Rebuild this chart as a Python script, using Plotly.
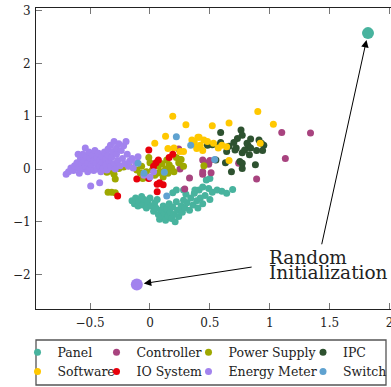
import plotly.graph_objects as go

# ---------------- data ----------------
panel_x = [-0.15,-0.13,-0.12,-0.10,-0.09,-0.07,-0.06,-0.05,-0.03,-0.02,0.00,0.01,0.03,0.04,0.05,0.06,
           0.07,0.08,0.09,0.10,0.11,0.12,0.13,0.14,0.15,0.16,0.17,0.18,0.19,0.20,0.21,0.22,0.23,0.24,
           0.26,0.27,0.28,0.29,0.30,0.31,0.33,0.34,0.36,0.37,0.39,0.40,0.41,0.42,0.44,0.44,0.46,0.47,
           0.49,0.50,0.52,0.56,0.60,0.64,0.69,0.22,0.28,0.19,0.50,0.375]
panel_y = [-0.60,-0.66,-0.55,-0.70,-0.62,-0.52,-0.68,-0.58,-0.74,-0.62,-0.55,-0.70,-0.80,-0.64,-0.74,-0.58,
           -0.86,-0.95,-0.78,-0.90,-0.70,-0.84,-0.97,-0.76,-0.90,-0.66,-0.82,-0.94,-0.72,-0.86,-1.00,-0.62,-0.78,-0.90,
           -0.70,-0.82,-0.59,-0.74,-0.48,-0.64,-0.78,-0.55,-0.68,-0.46,-0.60,-0.74,-0.40,-0.55,-0.34,-0.66,-0.50,-0.21,
           -0.37,-0.58,-0.44,-0.40,-0.42,-0.46,-0.39,-0.40,-0.40,-0.45,-0.18,-0.40]

controller_x = [1.10,1.34,1.13,0.89,0.44,0.49,0.44,0.44,0.51,0.74,0.33,0.29,0.24,0.25,0.25,0.46,0.50]
controller_y = [0.69,0.68,0.20,-0.19,0.17,0.09,-0.05,-0.10,-0.07,0.11,-0.17,-0.38,0.38,0.18,0.00,0.12,0.16]

power_x = [-0.36,-0.33,-0.30,-0.29,-0.26,-0.22,-0.18,-0.35,-0.32,-0.29,-0.11,-0.08,-0.06,-0.07,-0.03,-0.01,
           0.00,0.02,0.04,0.06,0.07,0.09,0.10,0.11,0.13,0.14,0.15,0.16,0.18,0.20,0.22,0.24,0.26,0.28,0.45]
power_y = [-0.06,-0.04,-0.10,-0.19,0.01,0.04,0.06,-0.44,-0.44,-0.45,-0.02,-0.08,-0.18,0.05,-0.05,0.22,
           0.12,-0.02,-0.12,-0.08,0.05,-0.05,0.10,-0.15,0.00,0.17,-0.08,0.08,0.02,-0.05,0.22,0.12,0.18,0.05,0.06]

ipc_x = [0.59,0.48,0.52,0.57,0.59,0.64,0.55,0.63,0.68,0.76,0.77,0.73,0.70,0.72,0.71,0.77,
         0.81,0.82,0.84,0.83,0.84,0.91,0.93,0.95,0.94,0.89,0.75,0.77,0.77,0.88,0.79,0.66]
ipc_y = [0.69,0.45,0.46,0.44,0.50,0.33,0.17,0.12,-0.05,0.74,0.64,0.58,0.50,0.40,0.36,0.31,
         0.49,0.44,0.40,0.27,0.57,0.55,0.49,0.45,0.35,0.35,0.14,0.11,0.01,0.08,0.36,0.43]

software_x = [0.19,0.30,0.13,0.04,0.35,0.41,0.15,0.20,0.28,0.90,0.66,0.52,1.03,0.40,0.39,0.42,
              0.37,0.53,0.60,0.64,0.66,0.92,0.44,0.25,0.48,0.57,0.45]
software_y = [1.00,0.84,0.62,0.49,0.55,0.60,0.39,0.40,0.33,1.09,0.87,0.82,0.85,0.60,0.39,0.45,
              0.50,0.49,0.45,0.42,0.16,0.49,0.35,0.33,0.52,0.40,0.55]

io_x = [-0.01,0.19,0.07,0.05,0.03,-0.11,-0.01,0.08,0.11,0.06,0.06,-0.27,0.16]
io_y = [0.36,0.28,0.17,0.12,0.05,-0.19,-0.18,-0.26,-0.30,-0.29,-0.43,-0.51,0.22]

energy_x = [-0.70,-0.68,-0.66,-0.64,-0.63,-0.61,-0.60,-0.59,-0.58,-0.57,-0.56,-0.56,-0.55,-0.54,-0.53,-0.52,
            -0.52,-0.51,-0.50,-0.50,-0.49,-0.48,-0.47,-0.47,-0.46,-0.45,-0.44,-0.44,-0.43,-0.42,-0.42,-0.41,
            -0.40,-0.40,-0.39,-0.38,-0.37,-0.37,-0.36,-0.35,-0.35,-0.34,-0.33,-0.33,-0.32,-0.31,-0.30,-0.30,
            -0.29,-0.28,-0.28,-0.27,-0.26,-0.25,-0.24,-0.23,-0.22,-0.21,-0.20,-0.19,-0.18,-0.17,-0.15,-0.14,
            -0.12,-0.495,-0.42,-0.05,0.00,0.03,-0.60,-0.54,-0.10]
energy_y = [-0.10,-0.05,0.02,-0.03,0.06,0.12,0.02,-0.08,0.20,0.10,0.28,0.00,0.15,0.05,0.24,-0.05,
            0.12,0.32,0.20,0.02,0.08,0.26,0.15,-0.03,0.35,0.10,0.22,0.00,0.30,0.16,0.06,-0.05,
            0.24,0.12,0.02,0.32,0.18,0.08,-0.02,0.26,0.38,0.13,0.04,0.45,0.22,0.33,0.10,0.52,
            0.00,0.28,0.40,0.16,0.48,0.06,0.35,0.20,0.44,0.10,0.52,0.28,0.05,0.15,0.20,0.02,
            0.12,-0.32,-0.26,-0.12,-0.15,-0.05,0.28,0.40,0.23]

switch_x = [0.22,0.34,-0.10,-0.05,0.14,0.54,0.12]
switch_y = [0.61,0.45,0.11,-0.08,-0.51,0.18,-0.06]

init_panel = (1.82, 2.575)
init_energy = (-0.11, -2.19)

x_ticks = [-0.5, 0, 0.5, 1, 1.5, 2]
x_ticktext = ["\u22120.5", "0", "0.5", "1", "1.5", "2"]
y_ticks = [-2, -1, 0, 1, 2, 3]
y_ticktext = ["\u22122", "\u22121", "0", "1", "2", "3"]

# ---------------- figure ----------------
FONT = "DejaVu Serif"
series = [
    ("Panel", panel_x, panel_y, "#48b39e", "legend"),
    ("Controller", controller_x, controller_y, "#a8437f", "legend2"),
    ("Power Supply", power_x, power_y, "#9ea800", "legend3"),
    ("IPC", ipc_x, ipc_y, "#2e5230", "legend4"),
    ("Software", software_x, software_y, "#ffc800", "legend"),
    ("IO System", io_x, io_y, "#e8000b", "legend2"),
    ("Energy Meter", energy_x, energy_y, "#a283ee", "legend3"),
    ("Switch", switch_x, switch_y, "#5fa2d0", "legend4"),
]

fig = go.Figure()
for name, xs, ys, col, lg in series:
    fig.add_trace(go.Scatter(x=xs, y=ys, mode="markers", name=name, legend=lg,
                             marker=dict(color=col, size=7, line=dict(width=0))))

fig.add_trace(go.Scatter(x=[init_panel[0]], y=[init_panel[1]], mode="markers", showlegend=False,
                         marker=dict(color="#48b39e", size=12, line=dict(width=0))))
fig.add_trace(go.Scatter(x=[init_energy[0]], y=[init_energy[1]], mode="markers", showlegend=False,
                         marker=dict(color="#a283ee", size=12, line=dict(width=0))))

axis_common = dict(showgrid=False, zeroline=False, showline=True, linecolor="#222", linewidth=1,
                   ticks="inside", ticklen=6, tickcolor="#777", tickwidth=1,
                   tickfont=dict(family=FONT, size=12, color="#222"))
fig.update_xaxes(range=[-0.9516, 2.012], tickvals=x_ticks, ticktext=x_ticktext, mirror="ticks",
                 ticklabelstandoff=3, ticklabeloverflow="allow", **axis_common)
# the right edge of the frame lies just outside the picture, so its ticks are not shown
fig.update_yaxes(range=[-2.653, 3.051], tickvals=y_ticks, ticktext=y_ticktext, mirror=True,
                 ticklabelstandoff=2, **axis_common)

# annotation text
fig.add_annotation(x=0.974, y=-1.668, xref="x", yref="y", text="Random", showarrow=False,
                   xanchor="left", yanchor="middle", font=dict(family=FONT, size=18.5, color="#222"))
fig.add_annotation(x=0.974, y=-1.961, xref="x", yref="y", text="Initialization", showarrow=False,
                   xanchor="left", yanchor="middle", font=dict(family=FONT, size=18.5, color="#222"))
# arrows
fig.add_annotation(x=init_panel[0], y=init_panel[1], ax=1.431, ay=-1.455, xref="x", yref="y",
                   axref="x", ayref="y", text="", showarrow=True, arrowhead=2, arrowsize=1.5,
                   arrowwidth=1, arrowcolor="#000", standoff=7)
fig.add_annotation(x=init_energy[0], y=init_energy[1], ax=0.861, ay=-1.854, xref="x", yref="y",
                   axref="x", ayref="y", text="", showarrow=True, arrowhead=2, arrowsize=1.5,
                   arrowwidth=1, arrowcolor="#000", standoff=7)

# legends (one per column), paper coords; margins fixed (no autoexpand)
W, H, PW, PH = 391, 387, 355, 301
def px2paper_x(px):
    return (px - 36) / PW
def py2paper_y(py):
    return (309 - py) / PH

leg_common = dict(bgcolor="rgba(0,0,0,0)", borderwidth=0, xanchor="left", yanchor="top",
                  font=dict(family=FONT, size=12.5, color="#222"), tracegroupgap=0,
                  orientation="v")
col_left = [17.5, 96.5, 188.5, 303]
lay = {}
for i, key in enumerate(["legend", "legend2", "legend3", "legend4"]):
    lay[key] = dict(x=px2paper_x(col_left[i]), y=py2paper_y(337.5), **leg_common)

fig.update_layout(
    width=W, height=H, autosize=False,
    margin=dict(l=36, r=0, t=8, b=78, pad=0, autoexpand=False),
    plot_bgcolor="white", paper_bgcolor="white",
    **lay,
)
fig.add_shape(type="rect", xref="paper", yref="paper",
              x0=0, x1=px2paper_x(386), y0=py2paper_y(385), y1=py2paper_y(340),
              line=dict(color="#555", width=1.3))

fig.write_html("out.html")
